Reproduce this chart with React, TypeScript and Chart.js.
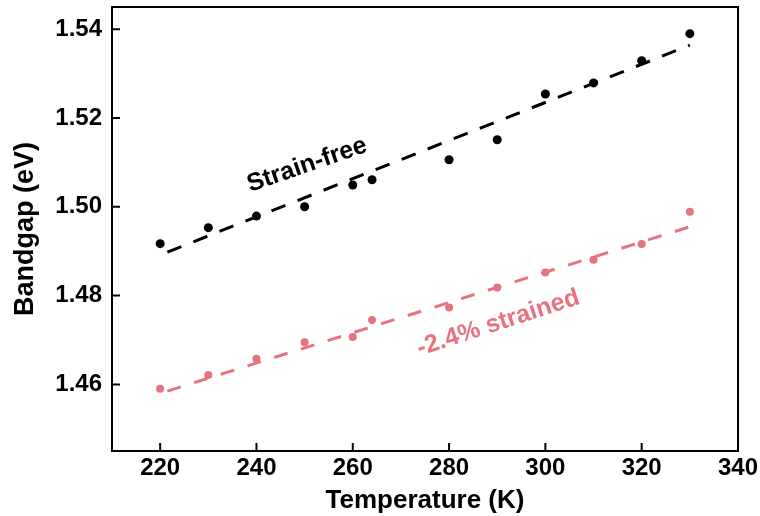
import React, { useEffect, useRef } from "react";
import { Chart, registerables } from "chart.js";

Chart.register(...registerables);

// ---- data ----
const temps = [220, 230, 240, 250, 260, 264, 280, 290, 300, 310, 320, 330];
const strainFree = [1.4917, 1.4953, 1.4979, 1.5, 1.5049, 1.5061, 1.5106, 1.5151, 1.5254, 1.5279, 1.5329, 1.539];
const strained = [1.459, 1.4621, 1.4658, 1.4695, 1.4707, 1.4745, 1.4773, 1.4818, 1.4852, 1.4881, 1.4916, 1.4989];

const fitT = [221.5, 330];
const strainFreeFit = [1.4898, 1.5364];
const strainedFit = [1.4585, 1.4955];

const xTicks = [220, 240, 260, 280, 300, 320, 340];
const yTicks = [1.46, 1.48, 1.5, 1.52, 1.54];

const labelTexts = ["Strain-free", "-2.4% strained"];
const labelT = [250.5, 290.2];
const labelE = [1.5094, 1.4738];

const xTitle = "Temperature (K)";
const yTitle = "Bandgap (eV)";

const PINK = "#e7737f";
const FONT = "'Liberation Sans', Arial, sans-serif";

const toXY = (xs: number[], ys: number[]) => xs.map((x, i) => ({ x, y: ys[i] }));

const decorPlugin = {
  id: "decor",
  afterDraw(chart: any) {
    const { ctx, chartArea: a, scales } = chart;
    const x = scales.x;
    const y = scales.y;
    ctx.save();
    ctx.strokeStyle = "#000";
    ctx.lineWidth = 2;
    ctx.strokeRect(a.left, a.top, a.right - a.left, a.bottom - a.top);
    ctx.beginPath();
    x.ticks.forEach((t: any) => {
      const px = x.getPixelForValue(t.value);
      ctx.moveTo(px, a.bottom);
      ctx.lineTo(px, a.bottom - 8);
    });
    y.ticks.forEach((t: any) => {
      const py = y.getPixelForValue(t.value);
      ctx.moveTo(a.left, py);
      ctx.lineTo(a.left + 8, py);
    });
    ctx.stroke();

    const colors = ["#000", PINK];
    const angles = [-19, -18];
    labelTexts.forEach((txt, i) => {
      const px = x.getPixelForValue(labelT[i]);
      const py = y.getPixelForValue(labelE[i]);
      ctx.save();
      ctx.translate(px, py);
      ctx.rotate((angles[i] * Math.PI) / 180);
      ctx.font = `bold 25px ${FONT}`;
      ctx.fillStyle = colors[i];
      ctx.textAlign = "center";
      ctx.textBaseline = "middle";
      ctx.fillText(txt, 0, 0);
      ctx.restore();
    });
    ctx.restore();
  },
};

export default function App() {
  const ref = useRef<HTMLCanvasElement | null>(null);
  useEffect(() => {
    if (!ref.current) return;
    const chart = new Chart(ref.current, {
      type: "scatter",
      data: {
        datasets: [
          {
            label: "Strain-free fit",
            data: toXY(fitT, strainFreeFit),
            showLine: true,
            borderColor: "#000",
            borderWidth: 3,
            borderDash: [15, 13],
            pointRadius: 0,
            fill: false,
          },
          {
            label: "Strained fit",
            data: toXY(fitT, strainedFit),
            showLine: true,
            borderColor: PINK,
            borderWidth: 3,
            borderDash: [14, 14],
            pointRadius: 0,
            fill: false,
          },
          {
            label: "Strain-free",
            data: toXY(temps, strainFree),
            backgroundColor: "#000",
            borderColor: "#000",
            pointRadius: 4.5,
            borderWidth: 0,
          },
          {
            label: "-2.4% strained",
            data: toXY(temps, strained),
            backgroundColor: PINK,
            borderColor: PINK,
            pointRadius: 4,
            borderWidth: 0,
          },
        ],
      },
      options: {
        animation: false,
        responsive: false,
        devicePixelRatio: 1,
        layout: { padding: { top: 7, right: 22, left: 0, bottom: 0 } },
        plugins: { legend: { display: false }, tooltip: { enabled: false } },
        scales: {
          x: {
            type: "linear",
            min: 210,
            max: 340,
            grid: { display: false, drawTicks: false, tickLength: 0 },
            border: { display: false },
            afterBuildTicks: (s: any) => {
              s.ticks = xTicks.map((v) => ({ value: v }));
            },
            afterFit: (s: any) => {
              s.height = 65;
              s.paddingLeft = 0;
              s.paddingRight = 0;
            },
            ticks: {
              autoSkip: false,
              maxRotation: 0,
              padding: 3,
              color: "#000",
              font: { family: FONT, size: 24, weight: "bold" },
            },
            title: {
              display: true,
              text: xTitle,
              color: "#000",
              padding: { top: 0, bottom: 0 },
              font: { family: FONT, size: 26, weight: "bold", lineHeight: 1.2 },
            },
          },
          y: {
            type: "linear",
            min: 1.445,
            max: 1.545,
            grid: { display: false, drawTicks: false, tickLength: 0 },
            border: { display: false },
            afterBuildTicks: (s: any) => {
              s.ticks = yTicks.map((v) => ({ value: v }));
            },
            afterFit: (s: any) => {
              s.width = 112;
              s.paddingTop = 0;
              s.paddingBottom = 0;
            },
            ticks: {
              autoSkip: false,
              padding: 10,
              color: "#000",
              font: { family: FONT, size: 24, weight: "bold" },
              callback: (v: any) => Number(v).toFixed(2),
            },
            title: {
              display: true,
              text: yTitle,
              color: "#000",
              padding: { top: 9, bottom: 0 },
              font: { family: FONT, size: 27, weight: "bold", lineHeight: 1.2 },
            },
          },
        },
      },
      plugins: [decorPlugin],
    });
    return () => chart.destroy();
  }, []);
  return (
    <div style={{ position: "absolute", left: 0, top: 0, width: 760, height: 516, background: "#fff" }}>
      <canvas ref={ref} width={760} height={516} />
    </div>
  );
}
